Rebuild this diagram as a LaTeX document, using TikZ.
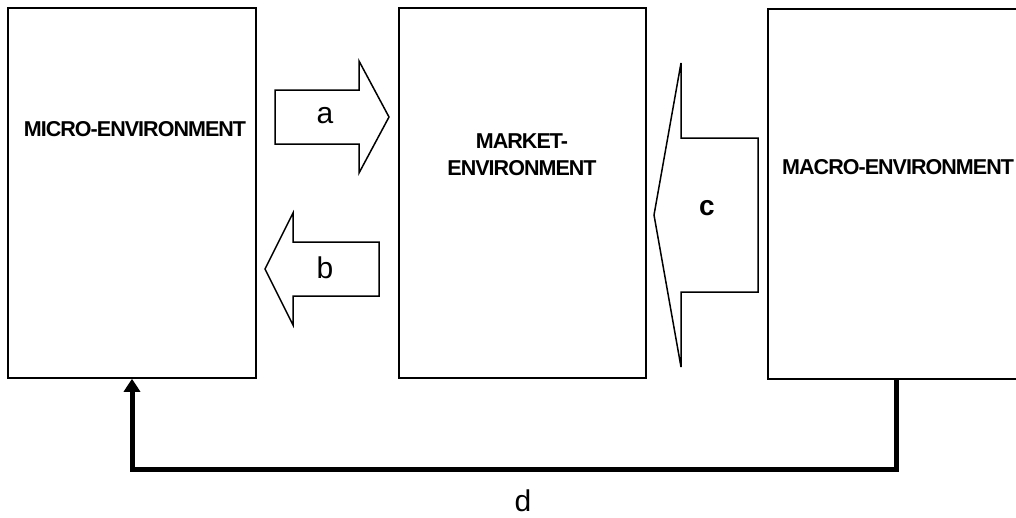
\documentclass[tikz,border=0pt]{standalone}
\usepackage{fontspec}
\setmainfont{Liberation Sans}
\newfontfamily\boxfont[LetterSpace=-4.5]{Liberation Sans}
\usetikzlibrary{arrows.meta}

\begin{document}
\begin{tikzpicture}[x=1pt,y=-1pt,
  envbox/.style={draw=black, line width=1.5pt, fill=white, inner sep=0pt},
  envtext/.style={font=\boxfont\bfseries\fontsize{21.5}{27}\selectfont, align=center, inner sep=0pt},
  blockarrow/.style={draw=black, line width=1.5pt, line join=miter, fill=white},
  arrowtext/.style={font=\fontsize{30}{30}\selectfont, inner sep=0pt},
  feedback/.style={line width=5pt, -{Triangle[length=13pt,width=16pt]}}
]
\useasboundingbox (0,0) rectangle (1016,517);
\clip (0,0) rectangle (1016,517);

% the three environment boxes
\node[envbox, minimum width=248pt, minimum height=370pt] (micro)  at (132,193) {};
\node[envbox, minimum width=247pt, minimum height=370pt] (market) at (522.5,193) {};
\node[envbox, minimum width=262pt, minimum height=370pt, anchor=north west] (macro) at (767,8) {};

\node[envtext] (microtxt)  at (135,129) {MICRO-ENVIRONMENT};
\node[envtext] (markettxt) at (522,155) {MARKET-\\ENVIRONMENT};
\node[envtext, anchor=west] (macrotxt) at (782,167) {MACRO-ENVIRONMENT};

% block arrow a: micro -> market
\draw[blockarrow] (275,90) -- (359,90) -- (359,61) -- (389,117) -- (359,173)
  -- (359,144) -- (275,144) -- cycle;
\node[arrowtext] (la) at (325,116) {a};

% block arrow b: market -> micro
\draw[blockarrow] (379,242) -- (293,242) -- (293,213) -- (265,269) -- (293,325)
  -- (293,296) -- (379,296) -- cycle;
\node[arrowtext] (lb) at (325,268) {b};

% block arrow c: macro -> market
\draw[blockarrow] (758,138) -- (681,138) -- (681,63) -- (654,215) -- (681,367)
  -- (681,292) -- (758,292) -- cycle;
\node[arrowtext, font=\bfseries\fontsize{28}{28}\selectfont] (lc) at (707,208) {c};

% feedback line d: macro -> micro
\coordinate (dstart) at (896,378);
\coordinate (dturn) at (896,469);
\draw[feedback] (dstart) -- (dturn) -| (micro.south);
\node[arrowtext] (ld) at (523,501) {d};
\end{tikzpicture}
\end{document}
